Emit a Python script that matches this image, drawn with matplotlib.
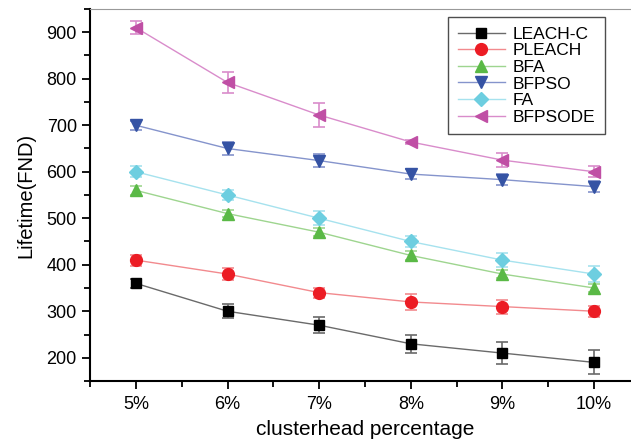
import numpy as np
from matplotlib import pyplot as plt
from matplotlib.ticker import MultipleLocator

plt.rcParams['font.family'] = ['Liberation Sans', 'DejaVu Sans']

x = [5, 6, 7, 8, 9, 10]
x_labels = ["5%", "6%", "7%", "8%", "9%", "10%"]

names = ["LEACH-C", "PLEACH", "BFA", "BFPSO", "FA", "BFPSODE"]
leach_c = [360, 300, 270, 230, 210, 190]
leach_c_err = [10, 15, 17, 19, 23, 26]
pleach = [410, 380, 340, 320, 310, 300]
pleach_err = [12, 13, 11, 17, 15, 12]
bfa = [560, 510, 470, 420, 380, 350]
bfa_err = [9, 8, 9, 9, 9, 8]
bfpso = [700, 650, 624, 595, 583, 568]
bfpso_err = [10, 15, 14, 10, 12, 12]
fa = [600, 550, 500, 450, 410, 380]
fa_err = [12, 10, 15, 12, 15, 17]
bfpsode = [910, 792, 722, 664, 625, 600]
bfpsode_err = [14, 23, 25, 5, 15, 12]

series = [leach_c, pleach, bfa, bfpso, fa, bfpsode]
errors = [leach_c_err, pleach_err, bfa_err, bfpso_err, fa_err, bfpsode_err]
markers = ["s", "o", "^", "v", "D", "<"]
mcolors = ["#000000", "#ec1c24", "#5ab946", "#3553a4", "#6dcee0", "#c04fa5"]
lcolors = ["#6a6a6a", "#f28a8e", "#9ed58f", "#8594cc", "#a6e2ee", "#d98ccb"]
msizes = [7, 8.5, 8.5, 8.5, 7.5, 8.5]

fig = plt.figure(figsize=(6.31, 4.41), dpi=100)
ax = fig.add_axes([90 / 631, 60 / 441, 550 / 631, 372 / 441])

handles = []
for i in range(len(names)):
    c = ax.errorbar(x, series[i], yerr=errors[i], color=lcolors[i], lw=1,
                    marker=markers[i], ms=msizes[i], mfc=mcolors[i], mec=mcolors[i],
                    ecolor=lcolors[i], elinewidth=1.2, capsize=4, capthick=1.2,
                    label=names[i])
    handles.append(c[0])

ax.set_xlim(4.5, 10.5)
ax.set_ylim(150, 950)
ax.set_xticks(x)
ax.set_xticklabels(x_labels)
ax.xaxis.set_minor_locator(MultipleLocator(0.5))
ax.yaxis.set_minor_locator(MultipleLocator(50))
ax.set_yticks(range(200, 901, 100))

ax.tick_params(which="major", direction="out", length=6, width=1.3, labelsize=13)
ax.tick_params(which="minor", direction="out", length=4, width=1.3)
ax.tick_params(axis="x", which="both", top=False, pad=5)
ax.tick_params(axis="y", which="both", right=False)

ax.spines["left"].set_linewidth(1.5)
ax.spines["bottom"].set_linewidth(1.5)
ax.spines["top"].set_color("#999999")
ax.spines["top"].set_linewidth(0.8)
ax.spines["right"].set_visible(False)

ax.set_xlabel("clusterhead percentage", fontsize=15, labelpad=5)
ax.set_ylabel("Lifetime(FND)", fontsize=14.5, labelpad=8)

leg = ax.legend(handles=handles, labels=names, loc="upper right",
                bbox_to_anchor=(0.936, 0.978), borderaxespad=0, fontsize=12.5,
                frameon=True, fancybox=False, edgecolor="#222222", handlelength=2.7,
                labelspacing=0.08, borderpad=0.55, handletextpad=0.45)
leg.get_frame().set_linewidth(1.0)

fig.savefig("out.png", dpi=100)
